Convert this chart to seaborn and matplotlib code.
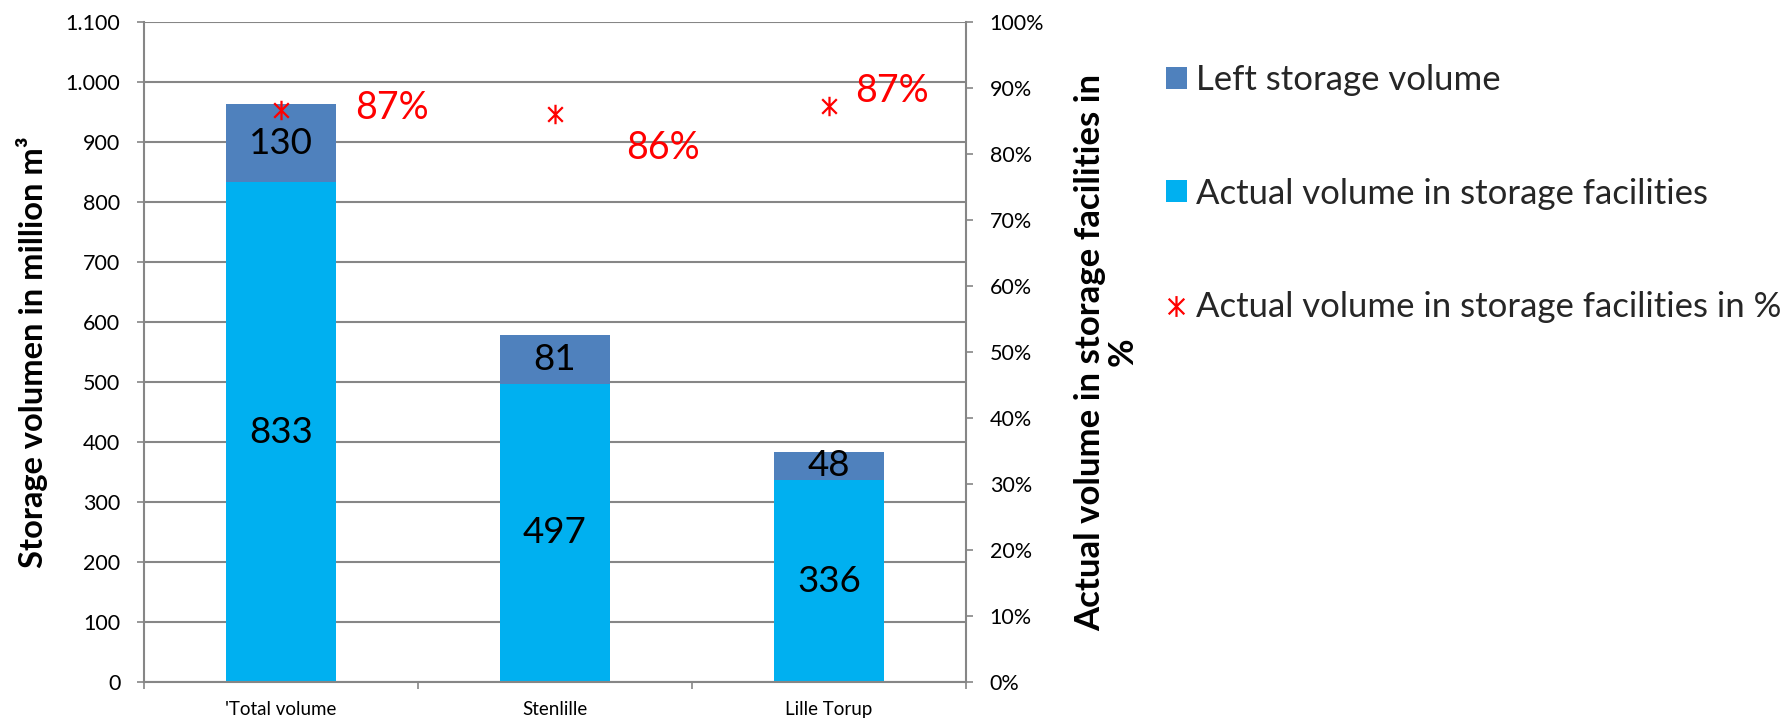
import numpy as np
import pandas as pd
import matplotlib
matplotlib.use("Agg")
import matplotlib.pyplot as plt
from matplotlib.path import Path
from matplotlib.lines import Line2D
from matplotlib.patches import Patch
from matplotlib.ticker import FuncFormatter, PercentFormatter, MultipleLocator, FixedLocator
import seaborn as sns

# ---- data ----
categories = ["'Total volume", "Stenlille", "Lille Torup"]
actual_volume = [833, 497, 336]
left_volume = [130, 81, 48]
actual_pct = [0.866, 0.860, 0.873]
series_names = ["Left storage volume", "Actual volume in storage facilities",
                "Actual volume in storage facilities in %"]
y_label_left = "Storage volumen in million m\u00b3"
y_label_right = "Actual volume in storage facilities in\n%"

# ---- style ----
sns.set_theme(style="white")
plt.rcParams['font.family'] = ['Lato', 'DejaVu Sans']
GRID = "#868686"
DARK = "#4F81BD"
LIGHT = "#00B0F0"
RED = "#FF0000"

df = pd.DataFrame({"cat": categories, "actual": actual_volume, "left": left_volume, "pct": actual_pct})

fig = plt.figure(figsize=(17.91, 7.21), dpi=100)
ax = fig.add_axes([144 / 1791, 1 - 682 / 721, (966 - 144) / 1791, (682 - 22) / 721])

sns.barplot(data=df, x="cat", y="actual", color=LIGHT, width=0.4, errorbar=None,
            saturation=1, ax=ax, linewidth=0, order=categories)
sns.barplot(data=df, x="cat", y="left", bottom=df["actual"].to_numpy(), color=DARK, width=0.4,
            errorbar=None, saturation=1, ax=ax, linewidth=0, order=categories)

for cont in ax.containers:
    ax.bar_label(cont, label_type="center", fontsize=26.5, color="black")

ax.set_ylim(0, 1100)
ax.set_xlim(-0.5, len(categories) - 0.5)
ax.yaxis.set_major_locator(MultipleLocator(100))
ax.yaxis.set_major_formatter(FuncFormatter(lambda v, p: f"{v:,.0f}".replace(",", ".")))
ax.grid(axis="y", color=GRID, linewidth=1.5)
ax.grid(axis="x", visible=False)
ax.set_axisbelow(True)
for s in ["top", "right"]:
    ax.spines[s].set_visible(False)
for s in ["left", "bottom"]:
    ax.spines[s].set_color(GRID)
    ax.spines[s].set_linewidth(1.5)
ax.tick_params(axis="y", which="major", left=True, length=5, width=1.2, color=GRID,
               labelsize=15.5, pad=12, labelcolor="black")
ax.xaxis.set_minor_locator(FixedLocator(np.arange(len(categories) + 1) - 0.5))
ax.tick_params(axis="x", which="major", length=0, labelsize=13.5, pad=14, labelcolor="black")
ax.tick_params(axis="x", which="minor", bottom=True, length=5, width=1.2, color=GRID)
ax.set_xlabel("")
ax.set_ylabel(y_label_left, fontsize=23.5, fontweight="bold", color="black")
ax.yaxis.set_label_coords(-0.117, 0.5)

# ---- secondary axis ----
ax2 = ax.twinx()
star = Path([(0, -1), (0, 1), (-0.75, -0.75), (0.75, 0.75), (-0.75, 0.75), (0.75, -0.75)],
            [Path.MOVETO, Path.LINETO, Path.MOVETO, Path.LINETO, Path.MOVETO, Path.LINETO])
sns.pointplot(data=df, x="cat", y="pct", order=categories, ax=ax2, linestyle="none",
              marker=star, color=RED, markersize=14, markeredgewidth=1.6, errorbar=None)
ax2.set_ylim(0, 1)
ax2.set_xlim(-0.5, len(categories) - 0.5)
ax2.yaxis.set_major_locator(MultipleLocator(0.1))
ax2.yaxis.set_major_formatter(PercentFormatter(1.0, decimals=0))
ax2.grid(False)
for s in ["top", "left", "bottom"]:
    ax2.spines[s].set_visible(False)
ax2.spines["right"].set_color(GRID)
ax2.spines["right"].set_linewidth(1.5)
ax2.tick_params(axis="y", right=True, length=5, width=1.2, color=GRID, labelsize=15.5, pad=12,
                labelcolor="black")
ax2.set_xlabel("")
ax2.set_ylabel(y_label_right, fontsize=25, fontweight="bold", color="black",
               multialignment="center", linespacing=1.0)
ax2.yaxis.set_label_coords(1.132, 0.5)

offsets = [(80, 2), (78, -24), (45, 11)]
for i, (v, off) in enumerate(zip(actual_pct, offsets)):
    ax2.annotate(f"{v:.0%}", xy=(i, v), xytext=off, textcoords="offset points",
                 ha="center", va="center", fontsize=27, color=RED)

handles = [Patch(facecolor=DARK, edgecolor="none"), Patch(facecolor=LIGHT, edgecolor="none"),
           Line2D([], [], marker=star, linestyle="none", color=RED, markersize=15, markeredgewidth=1.6)]
fig.legend(handles, series_names, loc="upper left", bbox_to_anchor=(1166 / 1791, 1 - 64 / 721),
           frameon=False, fontsize=25, handlelength=0.6, handleheight=0.6, handletextpad=0.25,
           labelspacing=2.35, borderpad=0, borderaxespad=0)

fig.savefig("out.png", dpi=100)
